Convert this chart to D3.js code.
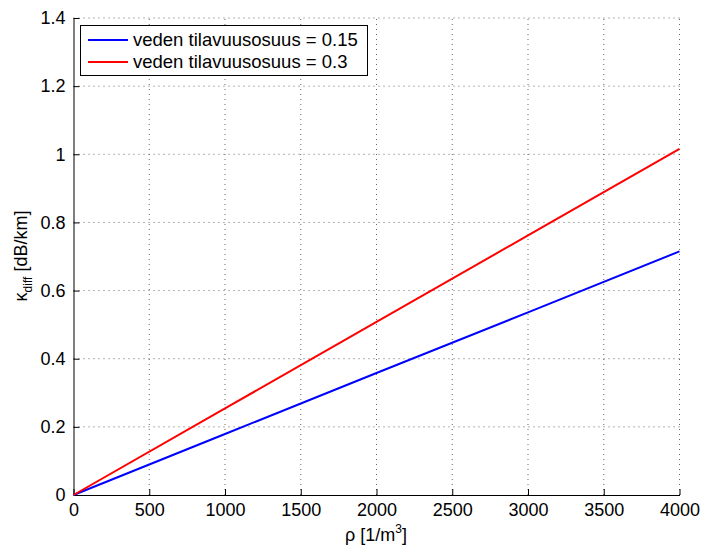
<!DOCTYPE html>
<html><head><meta charset="utf-8">
<script src="https://cdn.jsdelivr.net/npm/d3@7"></script>
<style>body{margin:0;background:#fff;}svg{display:block;}text{font-family:"Liberation Sans",Arial,sans-serif;}</style>
</head><body>
<script>
const rho = [0, 1000, 2000, 3000, 4000];
const kappa015 = [0, 0.179, 0.358, 0.536, 0.715];
const kappa03 = [0, 0.254, 0.508, 0.762, 1.016];
const xTicks = [0, 500, 1000, 1500, 2000, 2500, 3000, 3500, 4000];
const yTicks = [0, 0.2, 0.4, 0.6, 0.8, 1, 1.2, 1.4];
const seriesNames = ["veden tilavuusosuus = 0.15", "veden tilavuusosuus = 0.3"];
const seriesColors = ["#0000ff", "#ff0000"];

const W = 701, H = 548;
const L = 73.5, R = 679.5, T = 18, B = 495;
const svg = d3.select("body").append("svg").attr("width", W).attr("height", H);
const x = d3.scaleLinear().domain([0, 4000]).range([L, R]);
const y = d3.scaleLinear().domain([0, 1.4]).range([B, T]);

const grid = svg.append("g");
xTicks.forEach(t => {
  if (t === 0) return;
  grid.append("line").attr("x1", x(t)).attr("x2", x(t)).attr("y1", B).attr("y2", T)
    .attr("stroke", "#666").attr("stroke-width", 1).attr("stroke-dasharray", "1,4");
});
yTicks.forEach(t => {
  if (t === 0) return;
  grid.append("line").attr("x1", L).attr("x2", R).attr("y1", y(t)).attr("y2", y(t))
    .attr("stroke", "#666").attr("stroke-width", 1).attr("stroke-dasharray", "1,4");
});

const xAxis = d3.axisBottom(x).tickValues(xTicks).tickSizeInner(-6).tickSizeOuter(0).tickPadding(8).tickFormat(d3.format("d"));
const yAxis = d3.axisLeft(y).tickValues(yTicks).tickSizeInner(-6).tickSizeOuter(0).tickPadding(8).tickFormat(d => d === 0 ? "0" : (d === 1 ? "1" : d3.format(".1f")(d)));

const gx = svg.append("g").attr("transform", `translate(0,${B})`).call(xAxis);
const gy = svg.append("g").attr("transform", `translate(${L},0)`).call(yAxis);
[gx, gy].forEach(g => {
  g.select(".domain").attr("stroke", "#000").attr("stroke-width", 1);
  g.selectAll(".tick line").attr("stroke", "#000");
  g.selectAll(".tick text").attr("font-size", 18).attr("fill", "#000");
});

const line = d3.line().x((d, i) => x(rho[i])).y(d => y(d));
[kappa015, kappa03].forEach((s, i) => {
  svg.append("path").datum(s).attr("d", line).attr("fill", "none")
    .attr("stroke", seriesColors[i]).attr("stroke-width", 2);
});

// legend
const lg = svg.append("g");
lg.append("rect").attr("x", 80.5).attr("y", 25.5).attr("width", 287).attr("height", 50)
  .attr("fill", "#fff").attr("stroke", "#000").attr("stroke-width", 1);
seriesNames.forEach((n, i) => {
  const yy = 40 + i * 22;
  lg.append("line").attr("x1", 88).attr("x2", 128).attr("y1", yy).attr("y2", yy)
    .attr("stroke", seriesColors[i]).attr("stroke-width", 2);
  lg.append("text").attr("x", 133).attr("y", yy).attr("dy", "0.35em").attr("font-size", 18.5).text(n);
});

// x label
const xl = svg.append("text").attr("x", 376).attr("y", 541).attr("text-anchor", "middle").attr("font-size", 18);
xl.append("tspan").text("ρ [1/m");
xl.append("tspan").attr("font-size", 12).attr("dy", -8).text("3");
xl.append("tspan").attr("dy", 8).text("]");

// y label
const yl = svg.append("text").attr("transform", `translate(27,256) rotate(-90)`).attr("text-anchor", "middle").attr("font-size", 18);
yl.append("tspan").text("κ");
yl.append("tspan").attr("font-size", 12).attr("dy", 5).text("diff");
yl.append("tspan").attr("dy", -5).text(" [dB/km]");
</script>
</body></html>
